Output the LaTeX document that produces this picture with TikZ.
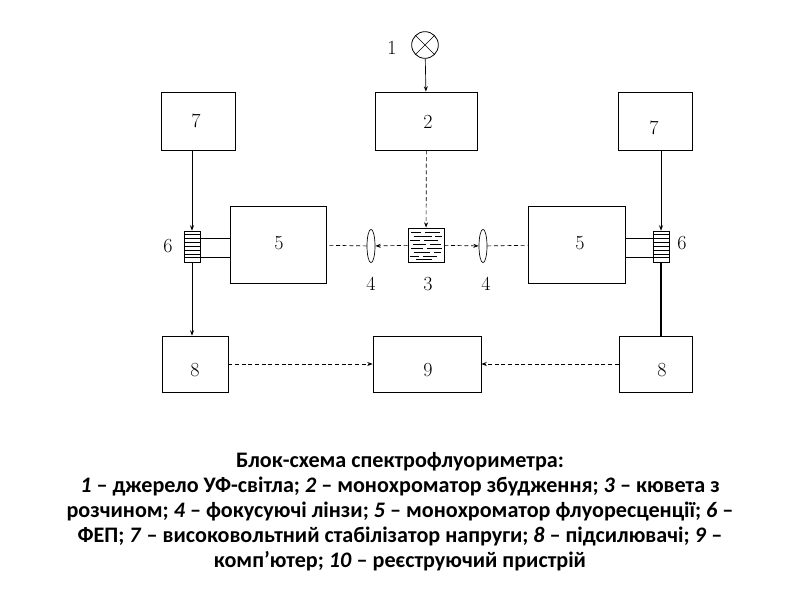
\documentclass[tikz,border=0pt]{standalone}
\usepackage{fontspec}
\newfontfamily\capfont{Carlito}
\usetikzlibrary{arrows.meta,shapes.geometric}
\begin{document}
\begin{tikzpicture}[x=0.75pt,y=-0.75pt,
  blk/.style={draw,line width=0.6pt},
  num/.style={font=\fontsize{15}{15}\selectfont},
  arr/.style={-{Stealth[length=4pt,width=3pt]},line width=0.5pt},
  dsh/.style={arr,dash pattern=on 3pt off 2pt}]
\useasboundingbox (0,0) rectangle (800,600);
% boxes
\node[blk,minimum width=55pt,minimum height=43.5pt] (b7l) at (198.5,121) {};
\node[blk,minimum width=55pt,minimum height=43.5pt] (b7r) at (655.5,121) {};
\node[blk,minimum width=77pt,minimum height=43.5pt] (b2) at (426.5,121) {};
\node[blk,minimum width=72pt,minimum height=57.75pt] (b5l) at (278,244.5) {};
\node[blk,minimum width=72.75pt,minimum height=57.75pt] (b5r) at (576.5,244.5) {};
\node[blk,minimum width=49.5pt,minimum height=42pt] (b8l) at (195,364) {};
\node[blk,minimum width=81pt,minimum height=42pt] (b9) at (427,364) {};
\node[blk,minimum width=54.75pt,minimum height=42pt] (b8r) at (655.5,364) {};
\node[num] at (196,121) {7};
\node[num] at (654,128) {7};
\node[num] at (428,122) {2};
\node[num] at (279,243) {5};
\node[num] at (580,243) {5};
\node[num] at (195,370) {8};
\node[num] at (428,370) {9};
\node[num] at (662,370) {8};
% lamp
\node[draw,circle,minimum size=20pt,inner sep=0pt,line width=0.6pt] (lamp) at (425,45) {};
\draw[line width=0.5pt] (lamp.north west) -- (lamp.south east) (lamp.north east) -- (lamp.south west);
\node[num] at (392,48) {1};
% element 6
\node[blk,minimum width=12pt,minimum height=23.25pt,inner sep=0pt] (s6l) at (192,246.5) {};
\node[blk,minimum width=12pt,minimum height=23.25pt,inner sep=0pt] (s6r) at (661,246.5) {};
\foreach \n in {s6l,s6r}{
  \foreach \i in {1,...,7}{
    \draw[line width=0.4pt] ([yshift=-\i*2.9pt]\n.north west) -- ([yshift=-\i*2.9pt]\n.north east);}}
\node[num] at (168,246) {6};
\node[num] at (682,243) {6};
\coordinate (c1) at (200,238); \coordinate (c2) at (200,257);
\draw[line width=0.5pt] (s6l.east |- c1) -- (b5l.west |- c1) (s6l.east |- c2) -- (b5l.west |- c2);
\draw[line width=0.5pt] (s6r.west |- c1) -- (b5r.east |- c1) (s6r.west |- c2) -- (b5r.east |- c2);
% lenses
\node[draw,ellipse,minimum width=6pt,minimum height=25pt,inner sep=0pt,line width=0.5pt] (l1) at (371,246) {};
\node[draw,ellipse,minimum width=6pt,minimum height=25pt,inner sep=0pt,line width=0.5pt] (l2) at (483,246) {};
\node[num] at (371,284) {4};
\node[num] at (486,284) {4};
% cuvette
\node[blk,minimum width=27pt,minimum height=25.5pt,inner sep=0pt] (cuv) at (426,245) {};
\node[num] at (428,284) {3};
\foreach \y/\a/\b in {232/411/421,232/425/440,236/414/432,236/435/442,240/410/420,240/424/438,244/413/426,244/430/441,248/411/423,248/427/442,252/414/430,252/434/441,256/410/419,256/423/437,259/416/432}
  \draw[line width=0.45pt] (\a,\y) -- (\b,\y);
% connectors
\draw[arr] (lamp) -- (b2);
\draw[dsh] (b2) -- (cuv);
\draw[dsh] (cuv) -- (l1);
\draw[dsh,-] (l1) -- (b5l);
\draw[dsh] (cuv) -- (l2);
\draw[dsh,-] (l2) -- (b5r);
\draw[arr] (b7l.south -| s6l) -- (s6l);
\draw[arr] (s6l) -- (b8l.north -| s6l);
\draw[arr] (b7r.south -| s6r) -- (s6r);
\draw[line width=1.4pt] (s6r) -- (b8r.north -| s6r);
\draw[dsh] (b8l) -- (b9);
\draw[dsh] (b8r) -- (b9);
% caption
\node[font=\capfont\bfseries\fontsize{16.6}{18.75}\selectfont,align=center] (cap) at (400,512) {Блок-схема спектрофлуориметра:\\
\textit{1} – джерело УФ-світла; \textit{2} – монохроматор збудження; \textit{3} – кювета з\\
розчином; \textit{4} – фокусуючі лінзи; \textit{5} – монохроматор флуоресценції; \textit{6} –\\
ФЕП; \textit{7} – високовольтний стабілізатор напруги; \textit{8} – підсилювачі; \textit{9} –\\
комп’ютер; \textit{10} – реєструючий пристрій};
\end{tikzpicture}
\end{document}
